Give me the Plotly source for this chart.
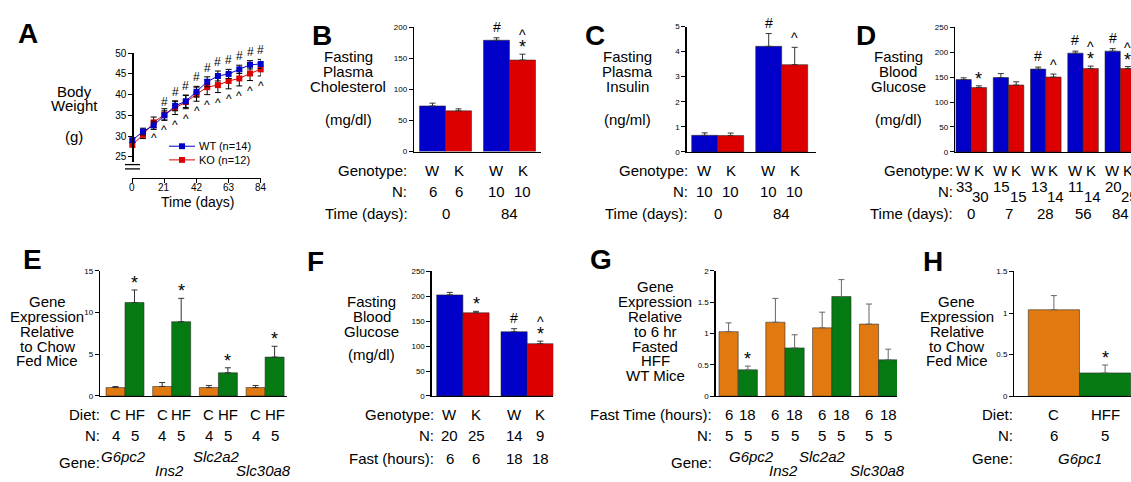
import plotly.graph_objects as go

W, H = 1131, 482
FONT = "Liberation Sans, Arial, Helvetica, sans-serif"
BLUE = "#0000C8"
RED = "#DC0000"
ORANGE = "#E07A10"
GREEN = "#067A12"

# ---------------- data ----------------
# A: body weight
days = [0, 7, 14, 21, 28, 35, 42, 49, 56, 63, 70, 77, 84]
day_ticks = [0, 21, 42, 63, 84]
wt_weight = [29.0, 31.1, 32.6, 35.0, 37.3, 38.4, 40.7, 43.1, 44.5, 45.0, 46.1, 47.2, 47.4]
wt_err = [0.6, 0.8, 1.0, 1.1, 1.2, 1.5, 1.3, 1.2, 1.2, 1.1, 1.0, 1.0, 1.1]
ko_weight = [27.9, 30.3, 33.3, 35.2, 36.8, 38.2, 40.1, 41.8, 42.3, 43.3, 43.9, 45.1, 46.1]
ko_err = [0.6, 0.9, 1.3, 1.4, 1.6, 1.6, 1.7, 1.8, 1.8, 1.9, 1.8, 1.7, 1.6]
wt_sig_days = [21, 28, 35, 42, 49, 56, 63, 70, 77, 84]
ko_sig_days = [14, 21, 28, 35, 42, 49, 56, 63, 70, 77, 84]
legend_labels = ["WT (n=14)", "KO (n=12)"]

# B: cholesterol
b_genotype = ["W", "K", "W", "K"]
b_n = ["6", "6", "10", "10"]
b_time = ["0", "84"]
b_vals = [73.4, 65.5, 179.0, 147.2]
b_err = [4.5, 3.2, 4.0, 9.4]
b_sig = {2: ["#"], 3: ["*", "^"]}

# C: insulin
c_genotype = ["W", "K", "W", "K"]
c_n = ["10", "10", "10", "10"]
c_time = ["0", "84"]
c_vals = [0.66, 0.65, 4.21, 3.48]
c_err = [0.10, 0.10, 0.51, 0.69]
c_sig = {2: ["#"], 3: ["^"]}

# D: glucose over time
d_genotype = ["W", "K"] * 5
d_n = ["33", "30", "15", "15", "13", "14", "11", "14", "20", "25"]
d_time = ["0", "7", "28", "56", "84"]
d_vals = [145, 129, 149, 134, 166, 150, 198, 167, 202, 167]
d_err = [3.5, 3.4, 8, 6.5, 4, 6, 4, 5, 5, 4]
d_sig = {1: ["*"], 4: ["#"], 5: ["^"], 6: ["#"], 7: ["*", "^"], 8: ["#"], 9: ["*", "^"]}

# E: gene expression chow vs HF
e_diet = ["C", "HF"] * 4
e_n = ["4", "5"] * 4
e_genes = ["G6pc2", "Ins2", "Slc2a2", "Slc30a8"]
e_vals = [1.0, 11.2, 1.13, 8.9, 1.0, 2.77, 1.0, 4.65]
e_err = [0.12, 1.5, 0.47, 2.8, 0.25, 0.6, 0.25, 1.3]
e_sig = {1: ["*"], 3: ["*"], 5: ["*"], 7: ["*"]}

# F: glucose by fast length
f_genotype = ["W", "K", "W", "K"]
f_n = ["20", "25", "14", "9"]
f_fast = ["6", "6", "18", "18"]
f_vals = [203, 167, 129, 105]
f_err = [5, 3, 6, 5]
f_sig = {1: ["*"], 2: ["#"], 3: ["*", "^"]}

# G: gene expression by fast time
g_fast = ["6", "18"] * 4
g_n = ["5", "5"] * 4
g_genes = ["G6pc2", "Ins2", "Slc2a2", "Slc30a8"]
g_vals = [1.03, 0.42, 1.18, 0.77, 1.09, 1.59, 1.15, 0.58]
g_err = [0.14, 0.06, 0.38, 0.21, 0.25, 0.27, 0.32, 0.17]
g_sig = {1: ["*"]}

# H: G6pc1
h_diet = ["C", "HFF"]
h_n = ["6", "5"]
h_gene = "G6pc1"
h_vals = [1.04, 0.28]
h_err = [0.17, 0.095]
h_sig = {1: ["*"]}

# ---------------- helpers ----------------
def fx(p):
    return p / W


def fy(p):
    return 1 - p / H


fig = go.Figure()
layout = {}
annotations = []
shapes = []


def text(x, y, s, size=15, xanchor="center", yanchor="middle", xref="paper", color="black"):
    annotations.append(dict(
        x=x if xref != "paper" else fx(x), y=fy(y), xref=xref, yref="paper",
        text=s, showarrow=False, xanchor=xanchor, yanchor=yanchor,
        font=dict(family=FONT, size=size, color=color)))


def stack_text(cx, lines, size=15):
    for s, y in lines:
        text(cx, y, s, size=size)


def sig_marks(xref, yref, x, y, marks, size=14):
    shift = 0
    for m in marks:
        if m == "*":
            annotations.append(dict(x=x, y=y, xref=xref, yref=yref, text="*", showarrow=False,
                                    xanchor="center", yanchor="bottom", yshift=shift - 5,
                                    font=dict(family=FONT, size=size + 4, color="black")))
            shift += 10
        elif m == "^":
            annotations.append(dict(x=x, y=y, xref=xref, yref=yref, text="^", showarrow=False,
                                    xanchor="center", yanchor="bottom", yshift=shift - 1,
                                    font=dict(family=FONT, size=size, color="black")))
            shift += 11
        else:
            annotations.append(dict(x=x, y=y, xref=xref, yref=yref, text=m, showarrow=False,
                                    xanchor="center", yanchor="bottom", yshift=shift + 1,
                                    font=dict(family=FONT, size=size, color="black")))
            shift += 13


AXLINE = dict(showline=True, linecolor="black", linewidth=1.3, showgrid=False, zeroline=False)


def bar_panel(k, ax0, ax1, ytop, ybot, yrange, ytickvals, yticktext, fb, bw, pitch, nper,
              vals, errs, colors, sig, errcolor="#333333"):
    xname, yname = f"x{k}", f"y{k + 1}"
    n = len(vals)
    pos = [fb - ax0 + (i // nper) * pitch + (i % nper) * bw + bw / 2 for i in range(n)]
    fig.add_trace(go.Bar(
        x=pos, y=vals, width=bw, xaxis=xname, yaxis=yname, showlegend=False,
        marker=dict(color=colors, line=dict(color="rgba(40,40,40,0.55)", width=1)),
        error_y=dict(type="data", array=errs, arrayminus=[0] * n, symmetric=False,
                     color=errcolor, thickness=1, width=3)))
    layout[f"xaxis{k}"] = dict(domain=[fx(ax0), min(1.0, fx(ax1))], range=[0, ax1 - ax0],
                               anchor=yname, showticklabels=False, ticks="", **AXLINE)
    layout[f"yaxis{k + 1}"] = dict(domain=[fy(ybot), fy(ytop)], range=yrange, anchor=xname,
                                   tickvals=ytickvals, ticktext=yticktext, ticks="outside",
                                   ticklen=4, tickwidth=1, tickcolor="black",
                                   tickfont=dict(family=FONT, size=8, color="black"), **AXLINE)
    for i, marks in sig.items():
        sig_marks(xname, yname, pos[i], vals[i] + errs[i], marks)
    return pos, xname


# ---------------- Panel A ----------------
fig.add_trace(go.Scatter(x=days, y=ko_weight, mode="lines+markers", name=legend_labels[1],
                         line=dict(color=RED, width=1), marker=dict(symbol="square", size=6, color=RED),
                         error_y=dict(type="data", array=ko_err, color="black", thickness=1, width=3),
                         xaxis="x", yaxis="y", cliponaxis=False, showlegend=False))
fig.add_trace(go.Scatter(x=days, y=wt_weight, mode="lines+markers", name=legend_labels[0],
                         line=dict(color=BLUE, width=1), marker=dict(symbol="square", size=6, color=BLUE),
                         error_y=dict(type="data", array=wt_err, color="black", thickness=1, width=3),
                         xaxis="x", yaxis="y", cliponaxis=False, showlegend=False))
layout["xaxis"] = dict(domain=[fx(132.3), fx(260.7)], range=[0, 84], anchor="free", position=fy(176),
                       tickvals=day_ticks, ticks="outside", ticklen=4, tickcolor="black",
                       showticklabels=False, **AXLINE)
layout["yaxis"] = dict(domain=[fy(160), fy(48.3)], range=[25 - (160 - 154.3) / 4.24, 50],
                       anchor="free", position=fx(132.3),
                       tickvals=[25, 30, 35, 40, 45, 50], ticks="outside", ticklen=4, tickcolor="black",
                       tickfont=dict(family=FONT, size=10, color="black"), **AXLINE)
layout["yaxis2"] = dict(domain=[fy(176), fy(166.7)], range=[0, 2.2], anchor="free", position=fx(132.3),
                        tickvals=[0], ticks="outside", ticklen=4, tickcolor="black",
                        tickfont=dict(family=FONT, size=10, color="black"), **AXLINE)
# x tick labels placed tightly under the axis, as in the original
for d in day_ticks:
    annotations.append(dict(x=d, y=fy(185.5), xref="x", yref="paper", text=str(d), showarrow=False,
                            xanchor="center", yanchor="middle",
                            font=dict(family=FONT, size=10, color="black")))
for yy in (162.3, 166.7):
    shapes.append(dict(type="line", xref="paper", yref="paper", x0=fx(125), x1=fx(140),
                       y0=fy(yy), y1=fy(yy), line=dict(color="black", width=1.3)))
for d in wt_sig_days:
    i = days.index(d)
    annotations.append(dict(x=d, y=wt_weight[i] + wt_err[i], xref="x", yref="y", text="#",
                            showarrow=False, yanchor="bottom", yshift=0,
                            font=dict(family=FONT, size=12, color="black")))
for d in ko_sig_days:
    i = days.index(d)
    annotations.append(dict(x=d, y=ko_weight[i] - ko_err[i], xref="x", yref="y", text="^",
                            showarrow=False, yanchor="top", yshift=-1,
                            font=dict(family=FONT, size=12, color="black")))
# legend (drawn by hand for compact spacing)
for lab, col, yy in ((legend_labels[0], BLUE, 143.5), (legend_labels[1], RED, 157.5)):
    shapes.append(dict(type="line", xref="paper", yref="paper", x0=fx(169), x1=fx(195),
                       y0=fy(yy), y1=fy(yy), line=dict(color=col, width=1)))
    shapes.append(dict(type="rect", xref="paper", yref="paper", x0=fx(179), x1=fx(185),
                       y0=fy(yy + 3), y1=fy(yy - 3), line=dict(width=0), fillcolor=col))
    text(197, yy, lab, size=11, xanchor="left")
text(27.5, 28, "<b>A</b>", size=28)
stack_text(74, [("Body", 87), ("Weight", 102), ("(g)", 134)])
text(197, 201, "Time (days)", size=14)

# ---------------- Panel B ----------------
pos, xr = bar_panel(2, 414, 541, 21.7, 149, [0, 200], [0, 50, 100, 150, 200],
                    ["0", "50", "100", "150", "200"], 419.5, 26, 64, 2,
                    b_vals, b_err, [BLUE, RED, BLUE, RED], b_sig)
text(321.7, 30, "<b>B</b>", size=28)
stack_text(348, [("Fasting", 52), ("Plasma", 67), ("Cholesterol", 82), ("(mg/dl)", 116)])
text(409, 168, "Genotype:", xanchor="right")
text(409, 190, "N:", xanchor="right")
text(410, 212, "Time (days):", xanchor="right")
for i in range(4):
    text(pos[i], 168, b_genotype[i], xref=xr)
    text(pos[i], 190, b_n[i], xref=xr)
for g in range(2):
    text((pos[2 * g] + pos[2 * g + 1]) / 2, 212, b_time[g], xref=xr)

# ---------------- Panel C ----------------
pos, xr = bar_panel(3, 686.7, 815.7, 21, 149.3, [0, 5], [0, 1, 2, 3, 4, 5],
                    ["0", "1", "2", "3", "4", "5"], 691.7, 26, 64, 2,
                    c_vals, c_err, [BLUE, RED, BLUE, RED], c_sig)
text(594.5, 30, "<b>C</b>", size=28)
stack_text(627, [("Fasting", 52), ("Plasma", 67), ("Insulin", 82), ("(ng/ml)", 116)])
text(690, 168, "Genotype:", xanchor="right")
text(690, 190, "N:", xanchor="right")
text(690, 212, "Time (days):", xanchor="right")
for i in range(4):
    text(pos[i], 168, c_genotype[i], xref=xr)
    text(pos[i], 190, c_n[i], xref=xr)
for g in range(2):
    text((pos[2 * g] + pos[2 * g + 1]) / 2, 212, c_time[g], xref=xr)

# ---------------- Panel D ----------------
pos, xr = bar_panel(4, 955, 1131, 21.7, 149.3, [0, 250], [0, 50, 100, 150, 200, 250],
                    ["0", "50", "100", "150", "200", "250"], 956, 15.3, 37.25, 2,
                    d_vals, d_err, [BLUE, RED] * 5, d_sig)
text(865.5, 30, "<b>D</b>", size=28)
stack_text(898, [("Fasting", 52), ("Blood", 67), ("Glucose", 82), ("(mg/dl)", 116)])
text(955, 168, "Genotype:", xanchor="right")
text(955, 190, "N:", xanchor="right")
text(955, 212, "Time (days):", xanchor="right")
for i in range(10):
    text(pos[i], 168, d_genotype[i], xref=xr)
    text(pos[i] + (1 if i % 2 == 0 else 2), 185 if i % 2 == 0 else 195, d_n[i], xref=xr)
for g in range(5):
    text((pos[2 * g] + pos[2 * g + 1]) / 2, 212, d_time[g], xref=xr)

# ---------------- Panel E ----------------
pos, xr = bar_panel(5, 100, 287.3, 271, 399, [0, 15], [0, 5, 10, 15], ["0", "5", "10", "15"],
                    106, 19, 46.7, 2, e_vals, e_err, [ORANGE, GREEN] * 4, e_sig)
text(32, 259, "<b>E</b>", size=28)
stack_text(47, [("Gene", 302), ("Expression", 318), ("Relative", 333), ("to Chow", 348), ("Fed Mice", 363)])
text(102, 418, "Diet:", xanchor="right")
text(102, 440, "N:", xanchor="right")
text(102, 467, "Gene:", xanchor="right")
for i in range(8):
    text(pos[i], 418, e_diet[i], xref=xr)
    text(pos[i], 440, e_n[i], xref=xr)
for g in range(4):
    text((pos[2 * g] + pos[2 * g + 1]) / 2 - 2, 461 if g % 2 == 0 else 475,
         f"<i>{e_genes[g]}</i>", xref=xr)

# ---------------- Panel F ----------------
pos, xr = bar_panel(6, 431.7, 553.3, 271.7, 399, [0, 250], [0, 50, 100, 150, 200, 250],
                    ["0", "50", "100", "150", "200", "250"], 436.7, 26.2, 64.3, 2,
                    f_vals, f_err, [BLUE, RED, BLUE, RED], f_sig)
text(315.5, 261, "<b>F</b>", size=28)
stack_text(371.7, [("Fasting", 302), ("Blood", 318), ("Glucose", 333), ("(mg/dl)", 357)])
text(436, 418, "Genotype:", xanchor="right")
text(436, 440, "N:", xanchor="right")
text(436, 463, "Fast (hours):", xanchor="right")
for i in range(4):
    text(pos[i], 418, f_genotype[i], xref=xr)
    text(pos[i], 440, f_n[i], xref=xr)
    text(pos[i], 463, f_fast[i], xref=xr)

# ---------------- Panel G ----------------
pos, xr = bar_panel(7, 715.7, 897, 271, 399.3, [0, 2], [0, 0.5, 1, 1.5, 2],
                    ["0", "0.5", "1", "1.5", "2"], 719, 19.2, 46.8, 2,
                    g_vals, g_err, [ORANGE, GREEN] * 4, g_sig, errcolor="#666666")
text(600.5, 259, "<b>G</b>", size=28)
stack_text(655, [("Gene", 287), ("Expression", 302), ("Relative", 318), ("to 6 hr", 333),
                 ("Fasted", 348), ("HFF", 363), ("WT Mice", 378)])
text(714, 418, "Fast Time (hours):", xanchor="right")
text(714, 440, "N:", xanchor="right")
text(714, 467, "Gene:", xanchor="right")
for i in range(8):
    text(pos[i], 418, g_fast[i], xref=xr)
    text(pos[i], 440, g_n[i], xref=xr)
g_label_x = [751, 783, 822, 877]
for g in range(4):
    text(g_label_x[g], 461 if g % 2 == 0 else 475, f"<i>{g_genes[g]}</i>")

# ---------------- Panel H ----------------
pos, xr = bar_panel(8, 1014.3, 1131, 271.7, 399.3, [0, 1.5], [0, 0.5, 1, 1.5],
                    ["0", "0.5", "1", "1.5"], 1028.3, 51.2, 0, 2,
                    h_vals, h_err, [ORANGE, GREEN], h_sig, errcolor="#666666")
text(932.5, 261, "<b>H</b>", size=28)
stack_text(956.7, [("Gene", 302), ("Expression", 318), ("Relative", 333), ("to Chow", 348), ("Fed Mice", 363)])
text(1015, 418, "Diet:", xanchor="right")
text(1015, 440, "N:", xanchor="right")
text(1015, 463, "Gene:", xanchor="right")
for i in range(2):
    text(pos[i], 418, h_diet[i], xref=xr)
    text(pos[i], 440, h_n[i], xref=xr)
text(1080, 463, f"<i>{h_gene}</i>")

layout.update(dict(
    width=W, height=H, autosize=False, margin=dict(l=0, r=0, t=0, b=0),
    paper_bgcolor="white", plot_bgcolor="white",
    font=dict(family=FONT, size=15, color="black"),
    showlegend=False, bargap=0, hovermode=False,
    annotations=annotations, shapes=shapes,
))
fig.update_layout(**layout)
fig.write_html("out.html", config={"displayModeBar": False, "staticPlot": True},
               post_script="document.body.style.margin='0';document.body.style.overflow='hidden';")
